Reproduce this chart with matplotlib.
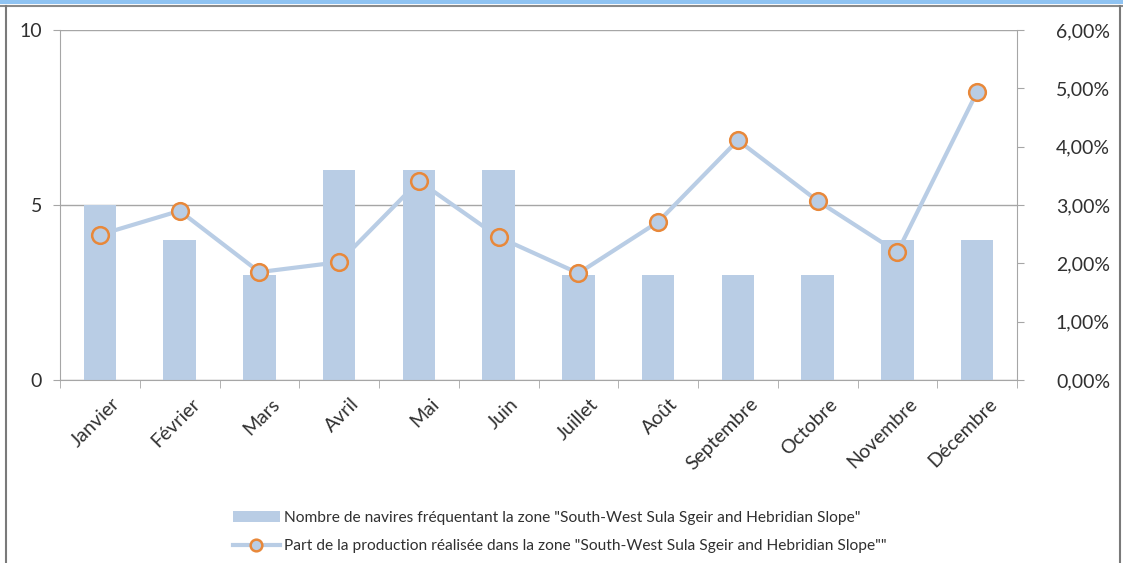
import matplotlib
matplotlib.use("Agg")
import matplotlib.pyplot as plt
from matplotlib.patches import Rectangle
from matplotlib.lines import Line2D
from matplotlib.ticker import FuncFormatter, FixedLocator
import numpy as np

plt.rcParams['font.family'] = ['Lato', 'DejaVu Sans']

months = ["Janvier", "Février", "Mars", "Avril", "Mai", "Juin", "Juillet",
          "Août", "Septembre", "Octobre", "Novembre", "Décembre"]
navires = [5, 4, 3, 6, 6, 6, 3, 3, 3, 3, 4, 4]
part_pct = [2.49, 2.90, 1.85, 2.02, 3.41, 2.45, 1.83, 2.71, 4.11, 3.07, 2.19, 4.94]
left_ticks = [0, 5, 10]
right_ticks = [0, 1, 2, 3, 4, 5, 6]

label_bar = 'Nombre de navires fréquentant la zone "South-West Sula Sgeir and Hebridian Slope"'
label_line = 'Part de la production réalisée dans la zone "South-West Sula Sgeir and Hebridian Slope""'

W, H = 1123, 563
fig = plt.figure(figsize=(W / 100, H / 100), dpi=100)
fig.patch.set_facecolor("white")

# frame
fig.add_artist(Rectangle((0, 1 - 4 / H), 1, 4 / H, transform=fig.transFigure,
                         facecolor="#8fc3f2", edgecolor="none"))
fig.add_artist(Line2D([0, 1], [1 - 6 / H, 1 - 6 / H], transform=fig.transFigure,
                      color="#8a8a8a", lw=1.5))
fig.add_artist(Line2D([6 / W, 6 / W], [0, 1 - 6 / H], transform=fig.transFigure,
                      color="#7a7a7a", lw=1.5))
fig.add_artist(Line2D([1120 / W, 1120 / W], [0, 1 - 6 / H], transform=fig.transFigure,
                      color="#7a7a7a", lw=1.5))

x0, x1, y0, y1 = 60, 1017, 30, 380
ax = fig.add_axes([x0 / W, 1 - y1 / H, (x1 - x0) / W, (y1 - y0) / H])
ax2 = ax.twinx()

bar_color = "#b9cde5"
grey = "#a6a6a6"
txt = "#303030"
x = np.arange(len(months))
ax.bar(x, navires, width=0.41, color=bar_color, zorder=2, label=label_bar)
ax.set_xlim(-0.5, len(months) - 0.5)
ax.set_ylim(0, 10)
ax.set_yticks(left_ticks)
ax.yaxis.grid(True, color=grey, lw=1)
ax.set_axisbelow(True)

ax2.plot(x, part_pct, color=bar_color, lw=3, marker="o", markersize=12,
         markerfacecolor=bar_color, markeredgecolor="#e8883a", markeredgewidth=1.8,
         zorder=3, label=label_line)
ax2.set_ylim(0, 6)
ax2.set_yticks(right_ticks)
ax2.yaxis.set_major_formatter(FuncFormatter(lambda v, p: f"{v:.2f}%".replace(".", ",")))

for a in (ax, ax2):
    a.spines["top"].set_visible(False)
    for s in ("left", "right", "bottom"):
        a.spines[s].set_color(grey)
ax.spines["right"].set_visible(False)
ax2.spines["left"].set_visible(False)
ax2.spines["bottom"].set_visible(False)

# label anchors sit slightly right of each category centre (Excel style)
ax.set_xticks(x + 0.14)
ax.set_xticklabels(months, rotation=45, ha="right", rotation_mode="anchor",
                   fontsize=14, color=txt)
ax.xaxis.set_minor_locator(FixedLocator(np.arange(-0.5, len(months), 1.0)))
ax.tick_params(axis="x", which="major", length=0, pad=11)
ax.tick_params(axis="x", which="minor", length=6, color=grey)
ax.tick_params(axis="y", length=5, color=grey, labelsize=14, pad=8, labelcolor=txt)
ax2.tick_params(axis="y", length=5, color=grey, labelsize=14, pad=23, labelcolor=txt)

h1, l1 = ax.get_legend_handles_labels()
h2, l2 = ax2.get_legend_handles_labels()
fig.legend(h1 + h2, l1 + l2, loc="center", bbox_to_anchor=(560 / W, 1 - 532 / H),
           frameon=False, fontsize=11.2, handlelength=3.0, handletextpad=0.3,
           labelspacing=0.95, markerscale=0.7, labelcolor=txt)

fig.savefig("out.png", dpi=100, facecolor="white")
